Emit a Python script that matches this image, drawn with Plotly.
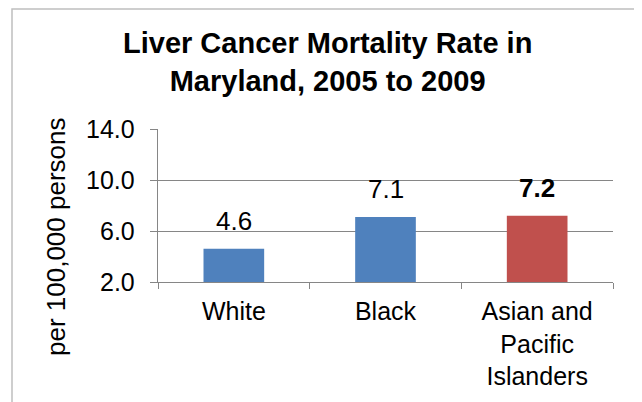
import plotly.graph_objects as go

categories = ["White", "Black", "Asian and<br>Pacific<br>Islanders"]
values = [4.6, 7.1, 7.2]
colors = ["#4F81BD", "#4F81BD", "#C0504D"]
label_text = ["4.6", "7.1", "<b>7.2</b>"]
y_ticks = [2, 6, 10, 14]
y_tick_labels = ["2.0", "6.0", "10.0", "14.0"]

OFF = 8  # default body margin of the html page
W, H = 642 - OFF, 402 - OFF
# plot area in reference pixels: x 158..613, y 129..282
L, R, T, B = 158 - OFF, 642 - 613, 129 - OFF, 402 - 282
pw, ph = W - L - R, H - T - B

def px_x(p):
    return (p - OFF - L) / pw

def px_y(p):
    return (H - B - (p - OFF)) / ph

FONT = "Liberation Sans, Arial, sans-serif"

fig = go.Figure()
fig.add_trace(go.Bar(x=categories, y=values, marker=dict(color=colors, line=dict(width=0)),
                     width=0.4, hoverinfo="skip"))

for c, v, t in zip(categories, values, label_text):
    fig.add_annotation(x=c, y=v, text=t, showarrow=False, yanchor="bottom", yshift=11,
                       font=dict(size=26, color="#000000", family=FONT))

# y tick labels placed with a wider gap from the tick marks
for v, t in zip(y_ticks, y_tick_labels):
    fig.add_annotation(xref="paper", yref="y", x=px_x(137), y=v, text=t,
                       showarrow=False, xanchor="right", yanchor="middle",
                       font=dict(size=25, color="#000000", family=FONT))

# title
fig.add_annotation(xref="paper", yref="paper", x=px_x(327), y=px_y(62),
                   text="<b>Liver Cancer Mortality Rate in<br>Maryland, 2005 to 2009</b>",
                   showarrow=False, xanchor="center", yanchor="middle",
                   font=dict(size=29, color="#000000", family=FONT))
# y axis title
fig.add_annotation(xref="paper", yref="paper", x=px_x(56), y=px_y(237),
                   text="per 100,000 persons", textangle=-90, showarrow=False,
                   xanchor="center", yanchor="middle",
                   font=dict(size=26, color="#000000", family=FONT))

# chart border
fig.add_shape(type="rect", xref="paper", yref="paper",
              x0=px_x(12), x1=px_x(638), y0=px_y(430), y1=px_y(9),
              line=dict(color="#BFBFBF", width=1.5), fillcolor="rgba(0,0,0,0)", layer="below")

fig.update_layout(
    width=W, height=H,
    margin=dict(l=L, r=R, t=T, b=B, pad=0, autoexpand=False),
    paper_bgcolor="white", plot_bgcolor="white",
    showlegend=False,
    font=dict(family=FONT, color="#000000"),
    bargap=0.6,
    xaxis=dict(showline=True, linecolor="#868686", linewidth=1,
               ticks="outside", tickson="boundaries", ticklen=6, tickcolor="#868686",
               ticklabelstandoff=7,
               tickfont=dict(size=25, color="#000000", family=FONT),
               showgrid=False, fixedrange=True),
    yaxis=dict(range=[2, 14], tickvals=y_ticks, showticklabels=False,
               showline=True, linecolor="#868686", linewidth=1,
               ticks="outside", ticklen=7, tickcolor="#868686",
               showgrid=True, gridcolor="#868686", gridwidth=1,
               zeroline=False, fixedrange=True),
)

fig.write_html("out.html")
